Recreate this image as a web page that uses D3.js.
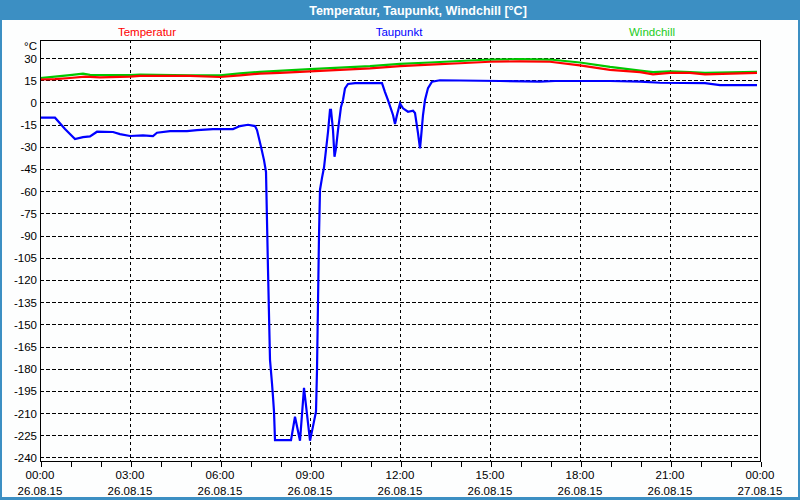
<!DOCTYPE html>
<html><head><meta charset="utf-8">
<script src="https://cdn.jsdelivr.net/npm/d3@7/dist/d3.min.js"></script>
<style>body{margin:0;background:#fff;}svg{display:block;}text{font-family:"Liberation Sans",Arial,sans-serif;}</style>
</head><body><svg id="c" width="800" height="500"></svg>
<script>
const title = "Temperatur, Taupunkt, Windchill [°C]";
const seriesNames = ["Temperatur", "Taupunkt", "Windchill"];
const seriesColors = ["#ff0000", "#0000ff", "#00c800"];
const legendColors = ["#ff0000", "#0000ff", "#22cc22"];
const yTicks = [30,15,0,-15,-30,-45,-60,-75,-90,-105,-120,-135,-150,-165,-180,-195,-210,-225,-240];
const xTickHours = [0,3,6,9,12,15,18,21,24];
const xTickTimes = ["00:00","03:00","06:00","09:00","12:00","15:00","18:00","21:00","00:00"];
const xTickDates = ["26.08.15","26.08.15","26.08.15","26.08.15","26.08.15","26.08.15","26.08.15","26.08.15","27.08.15"];

// minutes since 26.08.15 00:00
const tempMin = [0,30,60,90,120,180,200,300,360,400,440,480,540,600,660,720,780,840,900,960,1020,1080,1140,1200,1226,1260,1300,1330,1434];
const tempVal = [15.5,15.8,16.5,17.4,17,17.5,18,18,17.2,18.3,19.5,20,21,22,23,24.5,25.5,26.5,27.5,27.8,27.5,25,22,20.5,19,20,20,19,20];

const chillMin = [0,30,60,86,100,180,200,300,360,400,440,540,600,660,720,780,840,900,960,1020,1080,1140,1200,1226,1260,1300,1330,1434];
const chillVal = [16.5,17.5,18.5,19.4,18.6,18.5,18.8,18.3,18.3,19.6,20.7,22.5,23.5,24.5,26,27,28,29,29.3,29,27,24,21.5,20.5,21,20.5,20,20.7];

const dewMin = [0,30,50,70,86,100,114,146,160,180,206,226,234,260,294,314,346,386,400,416,430,434,442,448,452,456,460,464,466,468,470,502,510,520,528,540,546,552,554,558,560,564,568,572,576,580,582,586,589,592,596,602,606,610,616,630,684,690,696,706,710,714,720,722,726,736,746,750,756,760,762,766,770,776,784,800,920,1000,1030,1140,1200,1240,1330,1360,1434];
const dewVal = [-10.3,-10.3,-18,-24.8,-23.5,-23,-19.8,-20,-21.4,-22.7,-22.3,-22.7,-20.5,-19.4,-19.4,-18.7,-18,-18,-16,-15.1,-16,-18.7,-30,-39,-47,-113,-174,-190,-199,-209,-228.3,-228.3,-212.5,-228.7,-193,-228.7,-219,-209,-181,-90,-59,-51,-44,-32,-20,-5,-5,-18.7,-36.7,-31,-18.7,-3,1.6,9.5,12.5,13,13,7,1.6,-8.5,-14.6,-8.5,-0.6,-1.8,-4,-6.3,-5.6,-7.2,-20.7,-31,-24,-8.5,1.6,9.7,14,15,14.5,14,14.5,14.5,14,13.3,13,11.7,11.7];

const svg = d3.select("#c");
const W = 800, H = 500;
const L = 40, R = 760, T = 40, B = 461;

// window frame
svg.append("rect").attr("x",0).attr("y",0).attr("width",W).attr("height",H).attr("fill","#3c8fc3");
svg.append("rect").attr("x",2).attr("y",20).attr("width",W-4).attr("height",H-23).attr("fill","#fdfefe");
svg.append("text").attr("x",418).attr("y",14.5).attr("text-anchor","middle")
  .attr("fill","#ffffff").attr("font-weight","bold").attr("font-size","12.5px").text(title);

const x = d3.scaleLinear().domain([0,1440]).range([L,R]);
const y = d3.scaleLinear().domain([-242.4,42.2]).range([B,T]);

// grid
const g = svg.append("g");
g.selectAll("line.h").data(yTicks).join("line")
  .attr("x1",L).attr("x2",R).attr("y1",d=>Math.round(y(d))+0.5).attr("y2",d=>Math.round(y(d))+0.5)
  .attr("stroke","#000").attr("stroke-dasharray","4,2").attr("shape-rendering","crispEdges");
g.selectAll("line.v").data(xTickHours.slice(1,-1)).join("line")
  .attr("x1",d=>x(d*60)+0.5).attr("x2",d=>x(d*60)+0.5).attr("y1",T).attr("y2",B)
  .attr("stroke","#000").attr("stroke-dasharray","3,3").attr("shape-rendering","crispEdges");

// y axis labels
const yl = svg.append("g");
yl.selectAll("text").data(yTicks).join("text")
  .attr("x",37).attr("y",d=>y(d)+4.5).attr("text-anchor","end").attr("font-size","11.5px").attr("fill","#000")
  .text(d=>d);
yl.append("text").attr("x",37).attr("y",50).attr("text-anchor","end").attr("font-size","11.5px").text("°C");

// x axis
const xa = d3.axisBottom(x).tickValues(d3.range(0,1441,60)).tickSize(5).tickFormat("");
const xg = svg.append("g").attr("transform",`translate(0.5,${B+0.5})`).call(xa);
xg.select(".domain").remove();
xg.selectAll("line").attr("stroke","#000").attr("shape-rendering","crispEdges");
const xl = svg.append("g");
xl.selectAll("text.t").data(xTickHours).join("text").attr("class","t")
  .attr("x",d=>x(d*60)).attr("y",479).attr("text-anchor","middle").attr("font-size","11.5px").text((d,i)=>xTickTimes[i]);
xl.selectAll("text.d").data(xTickHours).join("text").attr("class","d")
  .attr("x",d=>x(d*60)).attr("y",495).attr("text-anchor","middle").attr("font-size","11.5px").text((d,i)=>xTickDates[i]);

// legend
const legX = [147, 399, 652];
svg.selectAll("text.leg").data(seriesNames).join("text").attr("class","leg")
  .attr("x",(d,i)=>legX[i]).attr("y",36).attr("text-anchor","middle").attr("font-size","11.5px")
  .attr("fill",(d,i)=>legendColors[i]).text(d=>d);

// lines
svg.append("clipPath").attr("id","pc").append("rect").attr("x",L).attr("y",T).attr("width",R-L).attr("height",B-T);
const line = d3.line().x(d=>x(d[0])).y(d=>y(d[1]));
const series = [
  d3.zip(tempMin,tempVal),
  d3.zip(dewMin,dewVal),
  d3.zip(chillMin,chillVal)
];
const order = [2,0,1];
order.forEach(i=>{
  svg.append("path").datum(series[i]).attr("d",line).attr("fill","none")
    .attr("stroke",seriesColors[i]).attr("stroke-width",2.2).attr("clip-path","url(#pc)");
});

// plot frame
svg.append("rect").attr("x",L+0.5).attr("y",T+0.5).attr("width",R-L).attr("height",B-T)
  .attr("fill","none").attr("stroke","#000").attr("shape-rendering","crispEdges");
</script></body></html>
